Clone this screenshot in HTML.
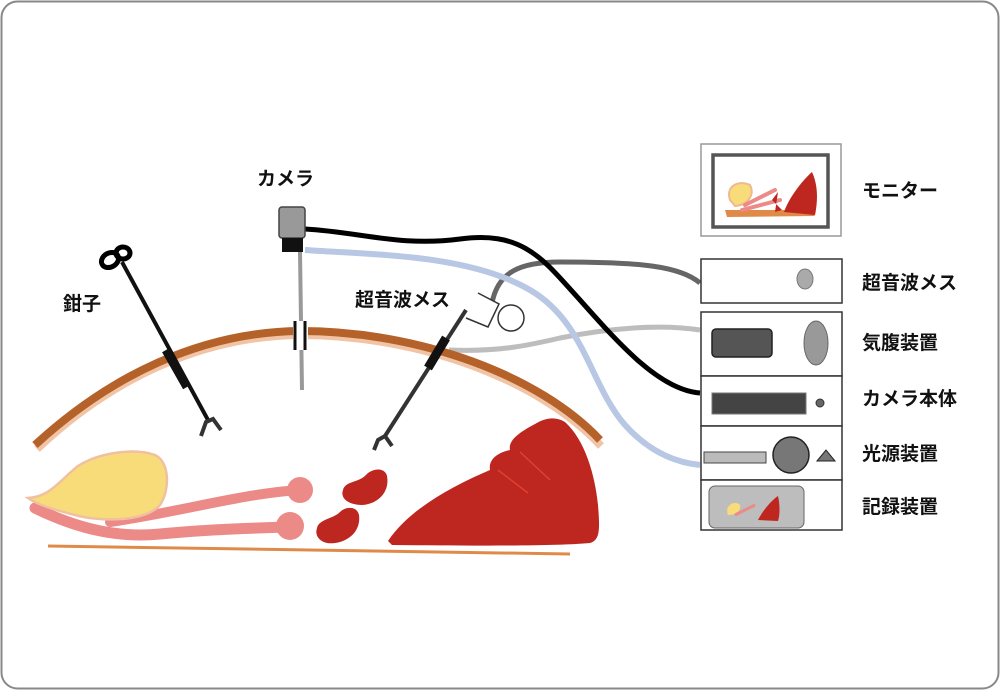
<!DOCTYPE html>
<html><head><meta charset="utf-8"><style>
html,body{margin:0;padding:0;background:#fff;}
svg{display:block;}
text{font-family:"Liberation Sans","Noto Sans CJK JP",sans-serif;font-weight:bold;fill:#111;}
</style></head><body>
<svg width="1000" height="690" viewBox="0 0 1000 690" xmlns="http://www.w3.org/2000/svg">
<rect x="1.5" y="1.5" width="997" height="687" rx="16" fill="#fff" stroke="#888" stroke-width="2"/>

<!-- cables -->
<path d="M449,350 C500,352 530,345 560,338 C610,328 660,324 700,330" fill="none" stroke="#bdbdbd" stroke-width="5"/>
<path d="M492,303 C498,272 520,262 560,262 C640,262 680,266 700,283" fill="none" stroke="#666" stroke-width="5"/>
<path d="M305,250 C380,255 470,255 530,290 C585,322 590,385 625,425 C652,455 680,463 700,465" fill="none" stroke="#b8c7e3" stroke-width="6"/>
<path d="M305,229 C360,232 400,247 460,239 C525,230 545,262 580,300 C620,345 660,390 700,393" fill="none" stroke="#000" stroke-width="5"/>

<!-- abdominal wall -->
<path d="M37,449 C110,380 200,336 300,335 C420,335 540,380 601,446" fill="none" stroke="#f2c4a6" stroke-width="8"/>
<path d="M35,445 C110,376 200,332 300,331 C420,331 540,376 600,440" fill="none" stroke="#b5622a" stroke-width="8"/>
<line x1="48" y1="546" x2="570" y2="554" stroke="#e08a4a" stroke-width="3"/>

<!-- organs -->
<path d="M35,508 C80,530 120,538 160,534 C200,530 250,528 290,527" fill="none" stroke="#ec8a88" stroke-width="11" stroke-linecap="round"/>
<path d="M110,522 C180,512 240,494 299,490" fill="none" stroke="#ec8a88" stroke-width="10" stroke-linecap="round"/>
<path d="M28,498 C50,497 60,480 78,466 C100,452 135,448 155,455 C170,462 170,490 160,505 C145,522 100,522 75,515 C55,510 38,505 28,498 Z" fill="#f8dc7a" stroke="#f0c0a0" stroke-width="2.5"/>
<circle cx="300" cy="490" r="13" fill="#ec8a88"/>
<circle cx="290" cy="526" r="14" fill="#ec8a88"/>
<path d="M343,490 C345,481 358,483 366,475 C372,468 385,467 387,476 C390,492 378,504 362,505 C348,505 340,498 343,490 Z" fill="#bd2720"/>
<path d="M317,528 C319,519 333,519 340,512 C346,506 357,506 359,515 C361,530 350,541 335,543 C321,545 314,536 317,528 Z" fill="#bd2720"/>
<path d="M388,541 C410,508 455,485 490,470 C488,458 500,452 510,450 C508,440 520,432 535,424 C545,418 555,416 565,422 C585,440 595,475 598,505 C600,530 600,540 590,543 C560,546 480,546 392,545 Z" fill="#bd2720"/>
<path d="M520,452 L550,480 M498,470 L528,493" stroke="#e04030" stroke-width="1.5"/>

<!-- forceps -->
<line x1="122" y1="262" x2="208" y2="420" stroke="#111" stroke-width="4"/>
<line x1="166" y1="350" x2="187" y2="387" stroke="#111" stroke-width="9"/>
<path d="M201,436 L206,422 L213,419 L221,430" stroke="#333" stroke-width="4" fill="none"/>
<ellipse cx="110" cy="260" rx="9" ry="7" fill="none" stroke="#000" stroke-width="5" transform="rotate(-30 110 260)"/>
<ellipse cx="123" cy="253" rx="7" ry="6" fill="none" stroke="#000" stroke-width="5"/>

<!-- camera -->
<line x1="300" y1="252" x2="302" y2="390" stroke="#999" stroke-width="4"/>
<rect x="293" y="321" width="15" height="29" fill="#fff"/>
<line x1="295" y1="321" x2="295" y2="350" stroke="#111" stroke-width="3"/>
<line x1="305" y1="321" x2="305" y2="350" stroke="#111" stroke-width="3"/>
<rect x="279" y="207" width="26" height="31" rx="3" fill="#999" stroke="#444" stroke-width="1.5"/>
<rect x="282" y="238" width="21" height="14" fill="#111"/>

<!-- ultrasonic -->
<line x1="466" y1="310" x2="385" y2="436" stroke="#333" stroke-width="4"/>
<line x1="446" y1="338" x2="428" y2="368" stroke="#111" stroke-width="9"/>
<path d="M374,450 L378,440 L385,436 L392,446" stroke="#333" stroke-width="4" fill="none"/>
<path d="M478,293 L499,304 L488,327 L466,318" fill="#fff" stroke="#333" stroke-width="1.5"/>
<circle cx="511" cy="318" r="13" fill="#fff" stroke="#333" stroke-width="1.5"/>

<!-- labels left -->
<text x="257" y="185" font-size="19">カメラ</text>
<text x="63" y="310" font-size="19">鉗子</text>
<text x="355" y="306" font-size="19">超音波メス</text>

<!-- right devices -->
<rect x="701" y="144" width="140" height="92" fill="#fff" stroke="#999" stroke-width="1.5"/>
<rect x="713" y="155" width="115" height="72" fill="#fff" stroke="#555" stroke-width="3.5"/>
<path d="M725,210 L810,210 L815,216 L727,217 Z" fill="#e08a4a"/>
<path d="M730,200 C725,185 740,180 750,185 C755,195 748,205 735,206 Z" fill="#f8dc7a" stroke="#f0b890" stroke-width="2"/>
<path d="M745,205 L775,190 M742,210 L780,200" stroke="#ec8a88" stroke-width="4" stroke-linecap="round"/>
<path d="M772,200 L778,192 L775,212 L782,210 Z" fill="#bd2720"/>
<path d="M784,212 C790,195 805,178 812,172 C818,185 818,200 815,215 Z" fill="#bd2720"/>

<rect x="701" y="259" width="141" height="44" fill="#fff" stroke="#333" stroke-width="1.5"/>
<ellipse cx="805" cy="279" rx="8" ry="10" fill="#aaa" stroke="#777"/>

<rect x="701" y="312" width="141" height="64" fill="#fff" stroke="#333" stroke-width="1.5"/>
<rect x="712" y="329" width="60" height="28" rx="4" fill="#555" stroke="#222" stroke-width="1.5"/>
<ellipse cx="816" cy="343" rx="12" ry="22" fill="#999" stroke="#666"/>

<rect x="701" y="376" width="141" height="50" fill="#fff" stroke="#333" stroke-width="1.5"/>
<rect x="712" y="393" width="94" height="21" fill="#444" stroke="#777"/>
<circle cx="820" cy="403" r="4" fill="#666" stroke="#333"/>

<rect x="701" y="426" width="141" height="54" fill="#fff" stroke="#333" stroke-width="1.5"/>
<rect x="704" y="452" width="62" height="11" fill="#bbb" stroke="#444"/>
<circle cx="791" cy="455" r="18" fill="#777" stroke="#222" stroke-width="1.5"/>
<path d="M817,461 L826,450 L835,461 Z" fill="#777" stroke="#222"/>

<rect x="701" y="480" width="141" height="50" fill="#fff" stroke="#333" stroke-width="1.5"/>
<rect x="709" y="486" width="95" height="42" rx="6" fill="#bdbdbd" stroke="#666"/>
<path d="M728,515 C724,505 735,500 740,505 C741,512 735,515 728,515 Z" fill="#f8dc7a"/>
<path d="M735,515 L755,505" stroke="#ec8a88" stroke-width="3"/>
<path d="M758,520 C763,510 772,500 778,496 C780,505 780,515 778,521 Z" fill="#bd2720"/>

<text x="862" y="197" font-size="19">モニター</text>
<text x="862" y="289" font-size="19">超音波メス</text>
<text x="862" y="349" font-size="19">気腹装置</text>
<text x="862" y="405" font-size="19">カメラ本体</text>
<text x="862" y="460" font-size="19">光源装置</text>
<text x="862" y="513" font-size="19">記録装置</text>
</svg>
</body></html>
